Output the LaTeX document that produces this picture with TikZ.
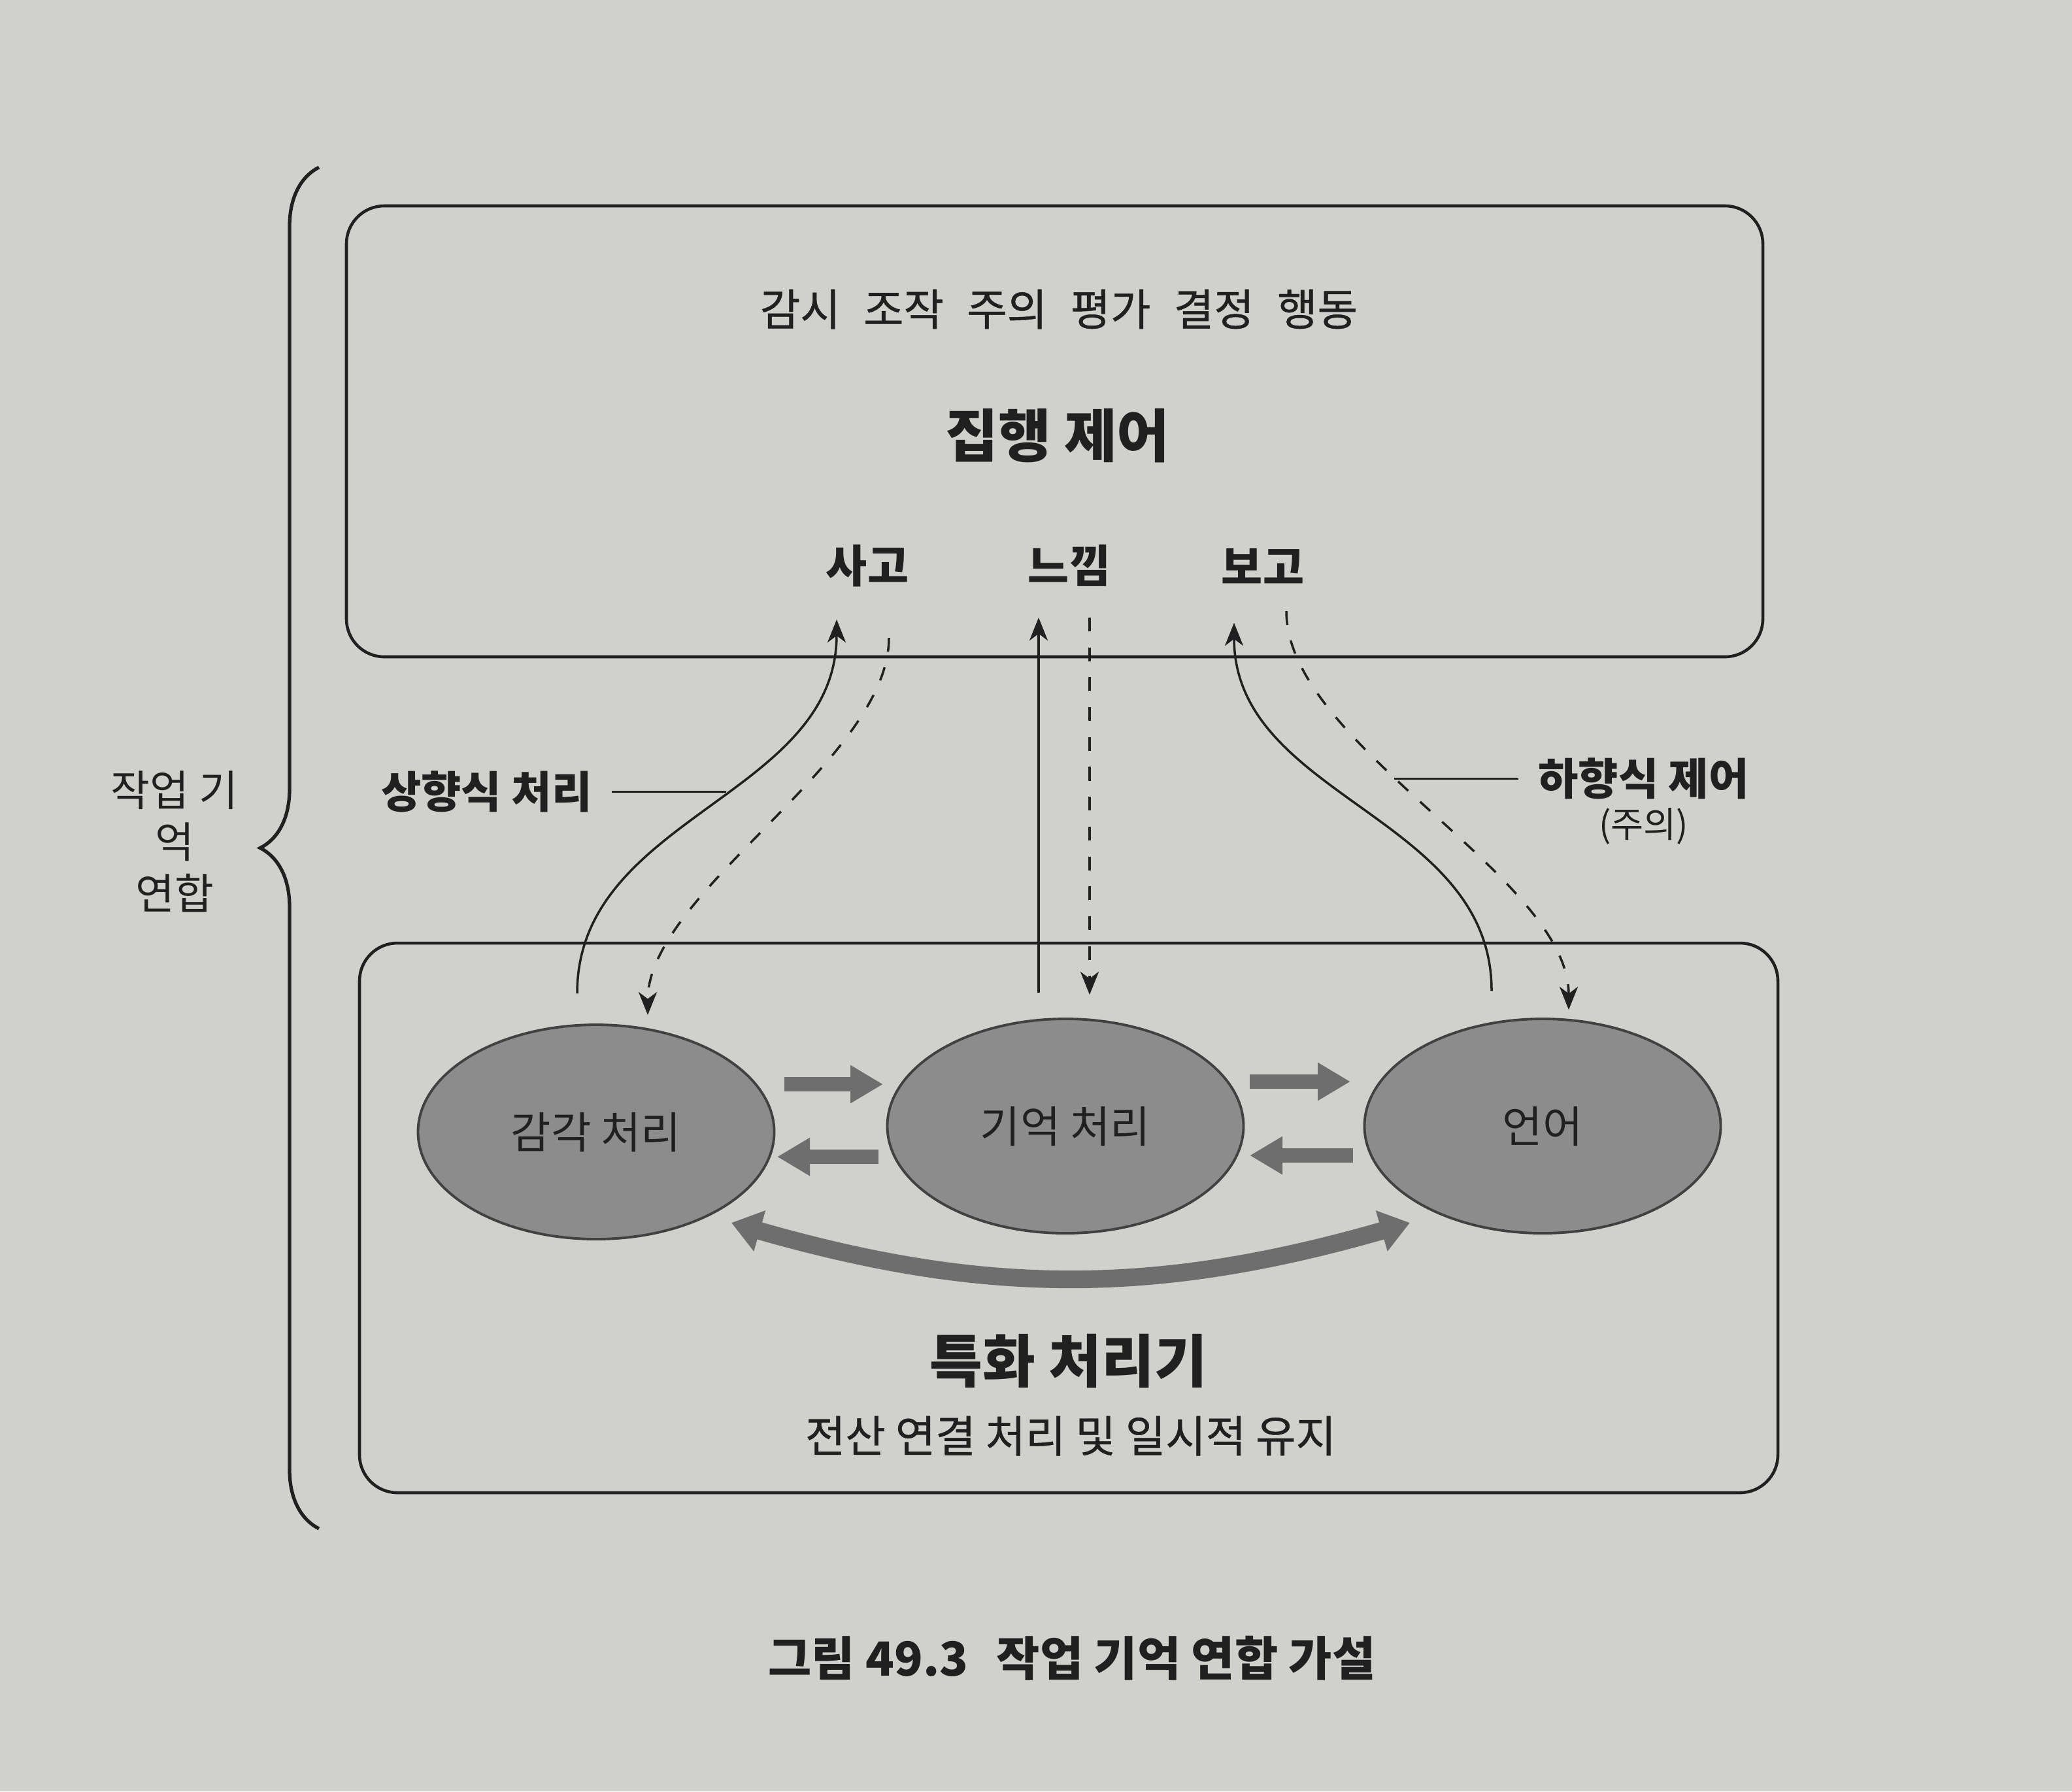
\documentclass[tikz,border=0pt]{standalone}
\usepackage{fontspec}
\setmainfont{Noto Sans CJK KR}
\newfontfamily\midweight[FakeBold=0.7]{Noto Sans CJK KR}
\usepackage{tikz}
\usetikzlibrary{arrows.meta, positioning, decorations.pathreplacing, shapes.geometric}
\definecolor{pagegray}{RGB}{208,208,205}
\definecolor{blobgray}{RGB}{140,140,140}
\definecolor{inkgray}{RGB}{32,32,32}
\definecolor{relaygray}{RGB}{110,110,110}
\newcommand{\wgap}{\hspace{0.53em}}
\tikzset{%
	panel/.style={
		draw=inkgray,
		line width=1.3pt,
		rounded corners=0.58cm
	},
	module/.style={
		ellipse,
		draw=inkgray!85,
		line width=1.1pt,
		fill=blobgray,
		minimum width=5.45cm,
		minimum height=3.28cm,
		text=inkgray,
		font=\fontsize{19pt}{23pt}\selectfont
	},
	upflow/.style={
		draw=inkgray,
		line width=1pt,
		-{Stealth[length=10pt, width=8pt, inset=3pt]}
	},
	downflow/.style={
		upflow,
		dash pattern=on 6pt off 7pt
	},
	relay/.style={
		draw=relaygray,
		line width=6.5pt,
		-{Triangle[length=0.5cm, width=0.55cm]}
	},
	loopback/.style={
		draw=relaygray,
		line width=0.27cm,
		>={Triangle[length=0.45cm, width=0.62cm]},
		<->
	},
	pointer/.style={draw=inkgray, line width=0.9pt},
	bracket/.style={
		draw=inkgray,
		line width=1.5pt,
		decorate,
		decoration={brace, amplitude=0.9cm}
	},
	sidetag/.style={text=inkgray, inner xsep=0.3cm, inner ysep=1pt, font=\bfseries\fontsize{19pt}{23pt}\selectfont},
	note/.style={text=inkgray, inner ysep=1pt, font=\fontsize{15.5pt}{19pt}\selectfont},
	duty/.style={text=inkgray, font=\midweight\fontsize{19pt}{23pt}\selectfont},
	heading/.style={text=inkgray, font=\bfseries\fontsize{25pt}{30pt}\selectfont},
	outlet/.style={text=inkgray, font=\bfseries\fontsize{19.5pt}{23pt}\selectfont},
}
\begin{document}
\begin{tikzpicture}
	% Page and frame
	\useasboundingbox (0,0) rectangle (31.70,-27.41);
	\fill[pagegray] (0,0) rectangle (31.70,-27.41);

	% Draw the upper panel
	\draw[panel] (5.30,-3.15) rectangle (26.97,-10.05);
	\node[duty] (duties) at (16.20,-4.73) {감시\wgap 조작\wgap 주의\wgap 평가\wgap 결정\wgap 행동};
	\node[heading] (exec) at (16.18,-6.67) {집행 제어};
	\node[outlet] (think) at (13.27,-8.66) {사고};
	\node[outlet] (feel) at (16.36,-8.66) {느낌};
	\node[outlet] (report) at (19.32,-8.66) {보고};

	% Draw the lower panel
	\draw[panel] (5.50,-14.43) rectangle (27.20,-22.84);
	\node[module] (sense) at (9.12,-17.32) {감각 처리};
	\node[module] (memory) at (16.30,-17.23) {기억 처리};
	\node[module] (lang) at (23.60,-17.23) {언어};
	\node[heading] (special) at (16.35,-20.83) {특화 처리기};
	\node[duty] (hold) at (16.38,-21.97) {전산 연결 처리 및 일시적 유지};

	% Brace and its label
	\draw[bracket] (4.88,-23.39) -- (4.88,-2.56);
	\node[text=inkgray, align=center, font=\fontsize{18.5pt}{22.5pt}\selectfont] (wm) at (2.67,-12.88) {작업 기\\억\\연합};

	% Arrow ends
	\coordinate (senseOut) at (8.83,-15.20);
	\coordinate (thinkIn) at (12.80,-9.48);
	\coordinate (thinkOut) at (13.60,-9.76);
	\coordinate (senseIn) at (9.91,-15.53);
	\coordinate (memOut) at (15.89,-15.19);
	\coordinate (feelIn) at (15.89,-9.45);
	\coordinate (feelOut) at (16.67,-9.45);
	\coordinate (memIn) at (16.67,-15.22);
	\coordinate (langOut) at (22.82,-15.16);
	\coordinate (reportIn) at (18.88,-9.53);
	\coordinate (reportOut) at (19.68,-9.35);
	\coordinate (langIn) at (24.00,-15.45);

	% Up and down arrows
	\draw[upflow] (senseOut) to[out=90, in=-90] coordinate[pos=0.55] (buMark) (thinkIn);
	\draw[downflow] (thinkOut) to[out=-90, in=90, looseness=0.7] (senseIn);
	\draw[upflow] (memOut) -- (feelIn);
	\draw[downflow] (feelOut) -- (memIn);
	\draw[upflow] (langOut) to[out=90, in=-90] (reportIn);
	\draw[downflow] (reportOut) to[out=-90, in=90, looseness=0.7] coordinate[pos=0.42] (tdMark) (langIn);

	% Side labels
	\node[sidetag, left=1.75cm of buMark] (buLabel) {상향식 처리};
	\draw[pointer] (buLabel) -- (buMark);
	\node[sidetag, right=1.9cm of tdMark] (tdLabel) {하향식 제어};
	\node[note, below=0.05cm of tdLabel] (tdNote) {(주의)};
	\draw[pointer] (tdLabel) -- (tdMark);

	% Block arrows between modules
	\coordinate (smA) at (12.00,-16.59);
	\coordinate (smB) at (13.51,-16.59);
	\coordinate (msA) at (13.44,-17.70);
	\coordinate (msB) at (11.89,-17.70);
	\coordinate (mlA) at (19.12,-16.55);
	\coordinate (mlB) at (20.66,-16.55);
	\coordinate (lmA) at (20.70,-17.68);
	\coordinate (lmB) at (19.12,-17.68);
	\draw[relay] (smA) -- (smB);
	\draw[relay] (msA) -- (msB);
	\draw[relay] (mlA) -- (mlB);
	\draw[relay] (lmA) -- (lmB);

	% Curved arrow under the modules
	\coordinate (loopL) at (11.19,-18.71);
	\coordinate (loopR) at (21.57,-18.71);
	\draw[loopback] (loopL) to[bend right=16] (loopR);

	% Caption
	\node[heading, font=\bfseries\fontsize{20.5pt}{25pt}\selectfont] (caption) at (16.40,-25.37) {그림 49.3\hspace{0.6em}작업 기억 연합 가설};
\end{tikzpicture}
\end{document}
